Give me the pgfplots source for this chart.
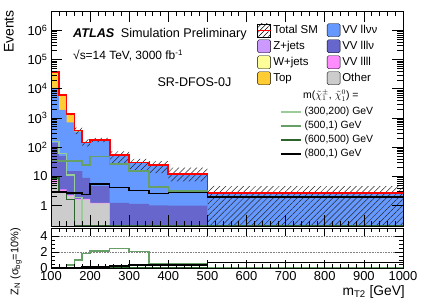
\documentclass[border=0pt]{standalone}
\usepackage{fontspec}
\setmainfont{Liberation Sans}
\usepackage{pgfplots}
\usepackage{pgfplotstable}
\pgfplotsset{compat=1.18}
\usepgfplotslibrary{fillbetween}
\usetikzlibrary{patterns.meta}

\definecolor{cZjets}{RGB}{204,153,255}
\definecolor{cWjets}{RGB}{255,255,153}
\definecolor{cTop}{RGB}{255,204,51}
\definecolor{cllvv}{RGB}{102,153,255}
\definecolor{clllv}{RGB}{102,102,204}
\definecolor{cllll}{RGB}{255,140,255}
\definecolor{cOther}{RGB}{204,204,204}
\definecolor{sA}{RGB}{153,204,153}
\definecolor{sB}{RGB}{102,160,102}
\definecolor{sC}{RGB}{45,100,45}

% cumulative stacked background (bins start at x, last row closes last bin)
\pgfplotstableread{
x other llll lllv llvv top wjets total up lo
100 6.1 9.1 140 10700 36800 36900 37000 39000 35000
120 3.1 3.6 49 1900 6150 6180 6200 6600 5800
140 2.1 2.3 15 700 1355 1358 1360 1480 1240
160 1.6 1.7 15 340 373 374 375 470 280
180 1.6 1.7 8.9 140 145.5 145.8 146 185 107
200 1.2 1.25 4.6 175 179.5 179.8 180 210 150
250 0.01 0.01 1.24 54.5 54.8 54.9 55 72 29
300 0.01 0.01 1.14 29.8 29.9 29.95 30 40 16
350 0.01 0.01 1.02 23.8 23.9 23.95 24 33 13
400 0.01 0.01 1.0 12.0 12.05 12.08 12.1 20 6.8
500 0.01 0.01 0.01 2.65 2.68 2.69 2.7 4.6 0.01
1000 0.01 0.01 0.01 2.65 2.68 2.69 2.7 4.6 0.01
}\bkg

\pgfplotstableread{
x sA sB sC sD zA zB zC zD
100 158 35 9 2.9 0 0 0 0
120 60 33 2.8 2.9 0 0 0 0
140 11 33 1.6 2.7 0 0.37 0 0
160 1.9 33 0.2 2.7 0 1.0 0 0
180 0.2 24 0.2 2.4 0 1.83 0 0.1
200 0.2 48 0.2 5.4 0 2.1 0 0.1
250 0.2 27 0.2 4.2 0 2.46 0 0.25
300 0.2 15 0.2 3.3 0 2.04 0 0.37
350 0.2 4.4 0.2 2.6 0 0.58 0 0.37
400 0.2 3.1 0.2 2.8 0 0.58 0 0.4
500 0.2 0.2 0.2 2.0 0 0 0 0.71
1000 0.2 0.2 0.2 2.0 0 0 0 0.71
}\sig

\pgfplotsset{
  hstep/.style={const plot mark left},
  boxleg/.style={legend image code/.code={\fill[##1, rounded corners=1.5bp] (0bp,-6.5bp) rectangle (13bp,6.5bp);}},
}

\begin{document}
\begin{tikzpicture}

\begin{axis}[
  scale only axis, width=352bp, height=215bp,
  at={(51bp,-11bp)}, anchor=north west,
  xmin=100, xmax=1000, ymode=log, ymin=0.2, ymax=4.6e6,
  xtick={100,200,...,1000}, xticklabels={}, minor x tick num=4,
  ytick={1,10,100,1000,10000,100000,1000000},
  yticklabels={1,10,{10\textsuperscript{2}},{10\textsuperscript{3}},{10\textsuperscript{4}},{10\textsuperscript{5}},{10\textsuperscript{6}}},
  major tick length=11bp, minor tick length=5.5bp,
  tick style={black, line width=0.6bp},
  axis line style={line width=0.8bp},
  tick label style={font=\fontsize{13}{15}\selectfont},
  axis on top,
  legend style={draw=none, fill=none, inner sep=0pt, outer sep=0pt,
    at={(0.585,0.942)}, anchor=north west,
    font=\fontsize{11.5}{13}\selectfont,
    nodes={inner sep=0pt, text height=8.5bp, text depth=2.5bp},
    column sep=2bp, row sep=2.6bp,
    /tikz/every even column/.append style={column sep=9bp}},
  legend columns=2, legend cell align=left,
]
\addplot[draw=none, name path=base, forget plot] coordinates {(100,0.05) (1000,0.05)};
\addplot[hstep, draw=none, name path=ptotal, forget plot] table[y=total]{\bkg};
\addplot[hstep, draw=none, name path=pwjets, forget plot] table[y=wjets]{\bkg};
\addplot[hstep, draw=none, name path=ptop, forget plot] table[y=top]{\bkg};
\addplot[hstep, draw=none, name path=pllvv, forget plot] table[y=llvv]{\bkg};
\addplot[hstep, draw=none, name path=plllv, forget plot] table[y=lllv]{\bkg};
\addplot[hstep, draw=none, name path=pllll, forget plot] table[y=llll]{\bkg};
\addplot[hstep, draw=none, name path=pother, forget plot] table[y=other]{\bkg};
% stacked backgrounds (cumulative)
\addplot[fill=cZjets, draw=none, forget plot] fill between[of=ptotal and base];
\addplot[fill=cWjets, draw=none, forget plot] fill between[of=pwjets and base];
\addplot[fill=cTop, draw=none, forget plot] fill between[of=ptop and base];
\addplot[fill=cllvv, draw=none, forget plot] fill between[of=pllvv and base];
\addplot[fill=clllv, draw=none, forget plot] fill between[of=plllv and base];
\addplot[fill=cllll, draw=none, forget plot] fill between[of=pllll and base];
\addplot[fill=cOther, draw=none, forget plot] fill between[of=pother and base];
% uncertainty band
\addplot[hstep, draw=none, name path=up, forget plot] table[y=up]{\bkg};
\addplot[hstep, draw=none, name path=lo, forget plot] table[y=lo]{\bkg};
\addplot[pattern={Lines[angle=45,distance=4.2bp,line width=0.5bp]}, pattern color=black!85, draw=none, forget plot] fill between[of=up and lo];
% total
\addplot[hstep, red, line width=1.7bp, forget plot] table[y=total]{\bkg};
% signals
\addplot[hstep, sA, line width=1.6bp, forget plot] table[y=sA]{\sig};
\addplot[hstep, sB, line width=1.6bp, forget plot] table[y=sB]{\sig};
\addplot[hstep, sC, line width=1.6bp, forget plot] table[y=sC]{\sig};
\addplot[hstep, black, line width=1.6bp, forget plot] table[y=sD]{\sig};

\addlegendimage{legend image code/.code={\fill[pattern={Lines[angle=45,distance=3.5bp,line width=0.5bp]}] (0bp,-6.5bp) rectangle (13bp,6.5bp); \draw[red, line width=1.4bp] (0bp,0bp) -- (13bp,0bp);}}
\addlegendentry{Total SM}
\addlegendimage{boxleg, fill=cllvv}\addlegendentry{VV llνν}
\addlegendimage{boxleg, fill=cZjets}\addlegendentry{Z+jets}
\addlegendimage{boxleg, fill=clllv}\addlegendentry{VV lllν}
\addlegendimage{boxleg, fill=cWjets}\addlegendentry{W+jets}
\addlegendimage{boxleg, fill=cllll}\addlegendentry{VV llll}
\addlegendimage{boxleg, fill=cTop}\addlegendentry{Top}
\addlegendimage{boxleg, fill=cOther}\addlegendentry{Other}
\end{axis}

% signal legend
\begin{axis}[
  scale only axis, width=352bp, height=215bp,
  at={(51bp,-11bp)}, anchor=north west,
  xmin=0, xmax=1, ymin=0, ymax=1, hide axis,
  legend style={draw=none, fill=none, inner sep=0pt, outer sep=0pt,
    at={(0.6506,0.556)}, anchor=north west,
    font=\fontsize{10.5}{12}\selectfont,
    nodes={inner sep=0pt, text height=8bp, text depth=2.5bp},
    column sep=3bp, row sep=3.6bp},
  legend cell align=left,
]
\addplot[draw=none, forget plot] coordinates {(0,0) (1,1)};
\addlegendimage{legend image code/.code={\draw[sA, line width=1.6bp] (0bp,0bp) -- (20bp,0bp);}}\addlegendentry{(300,200) GeV}
\addlegendimage{legend image code/.code={\draw[sB, line width=1.6bp] (0bp,0bp) -- (20bp,0bp);}}\addlegendentry{(500,1) GeV}
\addlegendimage{legend image code/.code={\draw[sC, line width=1.6bp] (0bp,0bp) -- (20bp,0bp);}}\addlegendentry{(600,500) GeV}
\addlegendimage{legend image code/.code={\draw[black, line width=1.6bp] (0bp,0bp) -- (20bp,0bp);}}\addlegendentry{(800,1) GeV}
\end{axis}

% ratio panel
\begin{axis}[
  scale only axis, width=352bp, height=40bp,
  at={(51bp,-228bp)}, anchor=north west,
  xmin=100, xmax=1000, ymin=0, ymax=5,
  xtick={100,200,...,1000}, minor x tick num=4,
  ytick={0,2,4}, minor y tick num=3,
  major tick length=8bp, minor tick length=4bp,
  tick style={black, line width=0.6bp},
  axis line style={line width=0.8bp},
  tick label style={font=\fontsize{13}{15}\selectfont},
  /pgf/number format/assume math mode=true,
  /pgf/number format/1000 sep={},
  axis on top,
]
\addplot[gray, densely dotted, line width=0.6bp] coordinates {(100,2) (1000,2)};
\addplot[gray, densely dotted, line width=0.6bp] coordinates {(100,4) (1000,4)};
\addplot[hstep, sA, line width=1.6bp] table[y=zA]{\sig};
\addplot[hstep, sC, line width=1.6bp] table[y=zC]{\sig};
\addplot[hstep, sB, line width=1.6bp] table[y=zB]{\sig};
\addplot[hstep, black, line width=1.6bp] table[y=zD]{\sig};
\end{axis}

% texts
\node[anchor=base west, inner sep=0pt, font=\fontsize{12.7}{15}\selectfont\bfseries\itshape] at (73bp,-37bp) {ATLAS};
\node[anchor=base west, inner sep=0pt, font=\fontsize{12.7}{15}\selectfont] at (120.7bp,-37bp) {Simulation Preliminary};
\node[anchor=base west, inner sep=0pt, font=\fontsize{12}{14}\selectfont] at (73bp,-59.5bp) {√s=14 TeV, 3000 fb\textsuperscript{-1}};
\node[anchor=base west, inner sep=0pt, font=\fontsize{12.6}{15}\selectfont] at (157.3bp,-86bp) {SR-DFOS-0J};
\node[anchor=west, inner sep=0pt, font=\fontsize{10.5}{12}\selectfont] at (303bp,-95.5bp) {m($\tilde{\chi}^{\pm}_{1}$, $\tilde{\chi}^{0}_{1}$) =};
\node[rotate=90, anchor=east, inner sep=0pt, font=\fontsize{14}{16}\selectfont] at (9bp,-10bp) {Events};
\node[rotate=90, anchor=east, inner sep=0pt, font=\fontsize{11}{13}\selectfont] at (16bp,-228bp) {Z\textsubscript{N} (σ\textsubscript{bg}=10\%)};
\node[anchor=east, inner sep=0pt, font=\fontsize{13.8}{16}\selectfont] at (405bp,-292bp) {m\textsubscript{T2} [GeV]};
\pgfresetboundingbox
\useasboundingbox (0,0) rectangle (425bp,-305bp);
\end{tikzpicture}
\end{document}
